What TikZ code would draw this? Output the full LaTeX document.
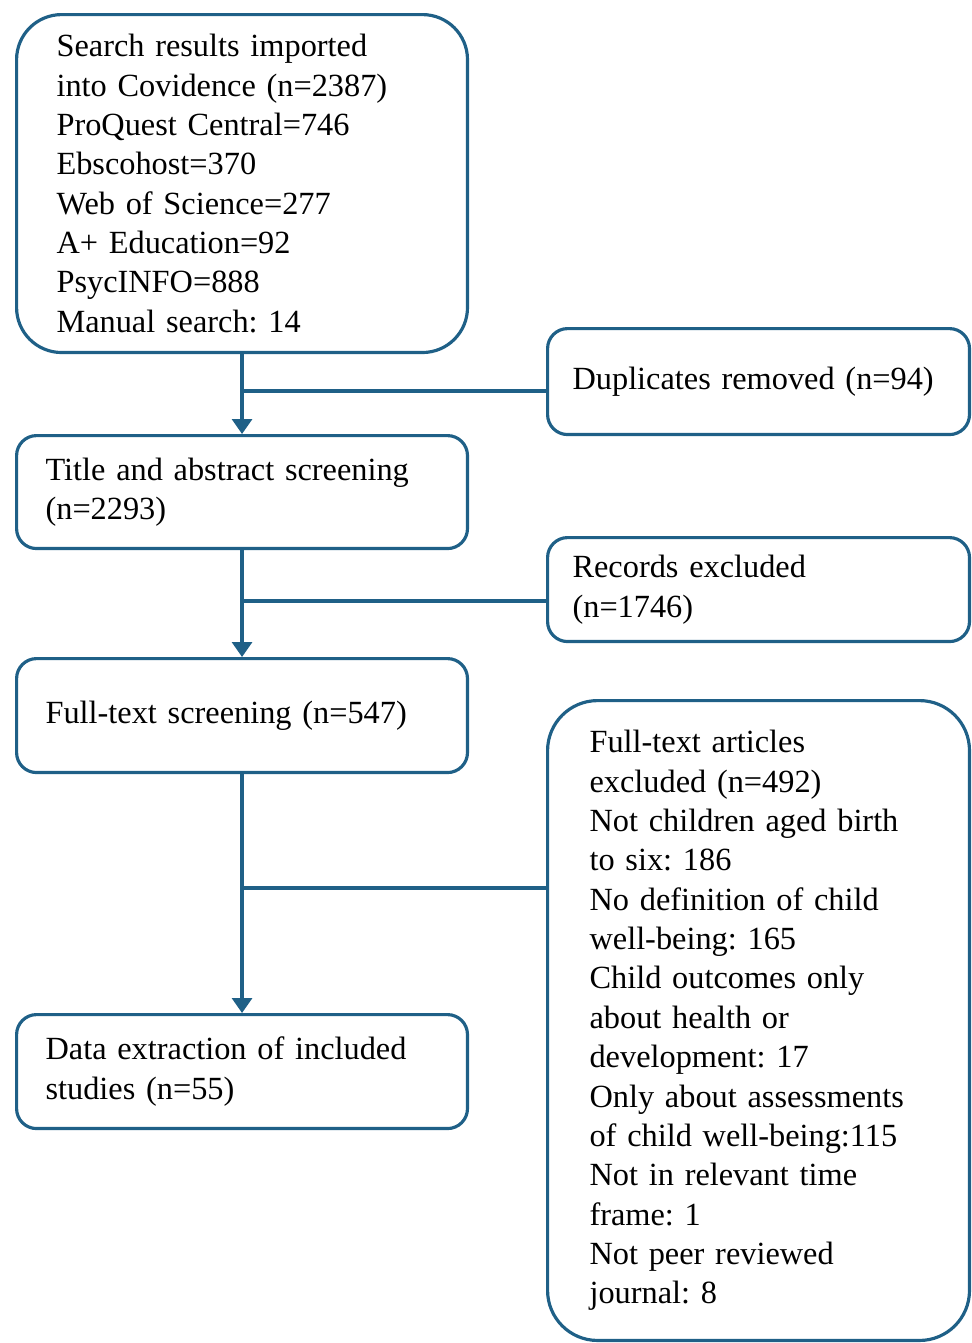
\documentclass[tikz,border=0pt]{standalone}
\usepackage{fontspec}
\setmainfont{Liberation Serif}
\usetikzlibrary{positioning,arrows.meta}
\definecolor{flowblue}{RGB}{31,96,135}
\tikzset{
  flowbox/.style={draw=flowblue, line width=1.8pt, anchor=north west,
    align=left, inner ysep=0pt, rounded corners=0.4cm,
    font=\fontsize{18.4}{22.4}\selectfont\frenchspacing},
  leftbox/.style={flowbox, inner xsep=0.58cm, text width=7.86cm},
  rightbox/.style={flowbox, inner xsep=0.5cm, text width=7.44cm},
  flowline/.style={draw=flowblue, line width=1.8pt},
  flowarrow/.style={flowline, -{Triangle[width=0.4cm,length=0.3cm]}}
}
\begin{document}
\begin{tikzpicture}[x=0.02cm, y=-0.02cm]
  \useasboundingbox (0,0) rectangle (971,1343);
  % main column
  \node [flowbox, rounded corners=0.9cm, inner xsep=0.8cm, text width=7.42cm,
         minimum height=6.76cm] (search) at (15,13)
    {Search results imported\\into Covidence (n=2387)\\ProQuest Central=746\\
     Ebscohost=370\\Web of Science=277\\A+ Education=92\\PsycINFO=888\\
     Manual search: 14};
  \node [leftbox, minimum height=2.26cm] (title) at (15,434)
    {Title and abstract screening\\(n=2293)};
  \node [leftbox, minimum height=2.28cm] (fulltext) at (15,657)
    {Full-text screening (n=547)};
  \node [leftbox, minimum height=2.28cm] (data) at (15,1013)
    {Data extraction of included\\studies (n=55)};
  % exclusions
  \node [rightbox, minimum height=2.12cm] (dup) at (546,327)
    {Duplicates removed (n=94)};
  \node [rightbox, minimum height=2.08cm] (records) at (546,536)
    {Records excluded\\(n=1746)};
  \node [rightbox, rounded corners=1cm, inner xsep=0.84cm, text width=6.76cm,
         minimum height=12.8cm] (excl) at (546,699)
    {Full-text articles\\excluded (n=492)\\Not children aged birth\\
     to six: 186\\No definition of child\\well-being: 165\\
     Child outcomes only\\about health or\\development: 17\\
     Only about assessments\\of child well-being:115\\
     Not in relevant time\\frame: 1\\Not peer reviewed\\journal: 8};
  % joins
  \coordinate (j1) at (242,391);
  \coordinate (j2) at (242,601);
  \coordinate (j3) at (242,888);
  \draw [flowarrow] (search.south) -- (title.north);
  \draw [flowarrow] (title.south) -- (fulltext.north);
  \draw [flowarrow] (fulltext.south) -- (data.north);
  \draw [flowline] (j1 -| search.south) -- (j1 -| dup.west);
  \draw [flowline] (j2 -| title.south) -- (j2 -| records.west);
  \draw [flowline] (j3 -| fulltext.south) -- (j3 -| excl.west);
\end{tikzpicture}
\end{document}
